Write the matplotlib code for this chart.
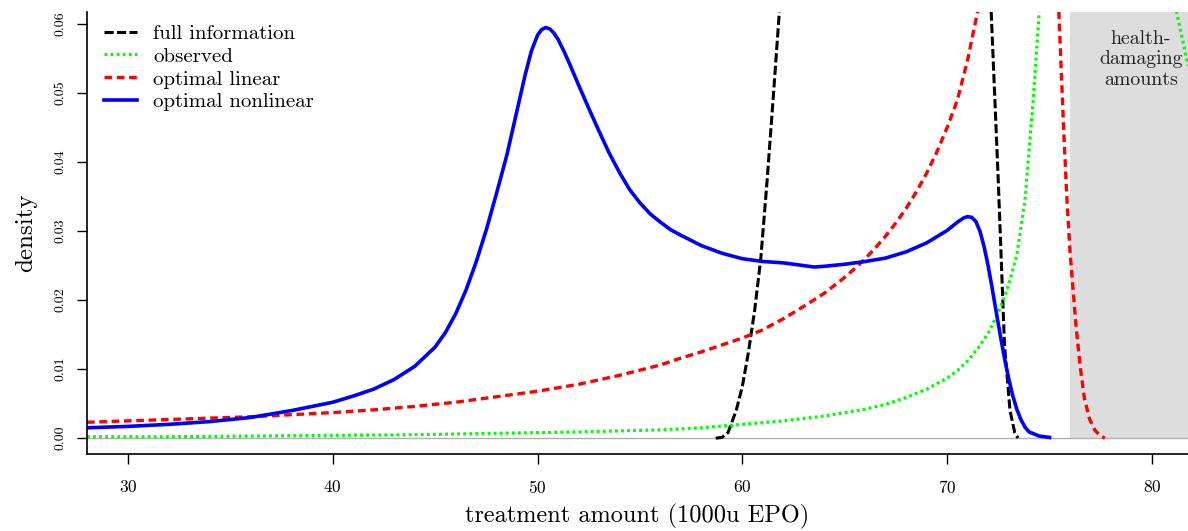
import numpy as np
import matplotlib
matplotlib.use('Agg')
from matplotlib import pyplot as plt

plt.rcParams['font.family'] = ['cmr10', 'DejaVu Serif']
plt.rcParams['axes.unicode_minus'] = False
plt.rcParams['axes.formatter.use_mathtext'] = True

# full information
full_x = [58.7, 59.0, 59.3, 59.7, 60.0, 60.3, 60.6, 60.9, 61.2, 61.5, 61.8, 62.2, 63, 65,
          67, 69, 71, 71.8, 72.15, 72.5, 72.8, 73.07, 73.3, 73.46]
full_y = [0, 0.0001, 0.0008, 0.004, 0.0075, 0.0125, 0.0185, 0.026, 0.037, 0.049, 0.0615,
          0.075, 0.085, 0.088, 0.088, 0.088, 0.085, 0.072, 0.0618, 0.037, 0.0135, 0.004,
          0.0008, 0]

# observed
obs_x = [28, 32, 36, 40, 44, 48, 52, 56, 58, 60, 62, 64, 66, 67, 68, 69, 70, 70.5, 71, 71.5,
         72, 72.5, 73, 73.4, 73.8, 74.2, 74.5, 75, 76, 78, 80, 81, 81.2, 81.76]
obs_y = [0.0002, 0.0002, 0.0003, 0.0004, 0.0005, 0.0007, 0.0009, 0.0012, 0.0015, 0.002,
         0.0025, 0.0032, 0.0042, 0.0049, 0.0059, 0.0071, 0.0087, 0.0098, 0.0112, 0.013,
         0.0152, 0.0182, 0.0222, 0.0265, 0.0345, 0.049, 0.062, 0.085, 0.12, 0.14, 0.1,
         0.066, 0.0618, 0.054]

# optimal linear
lin_x = [28, 30, 32, 34, 36, 38, 40, 42, 44, 46, 48, 50, 52, 54, 56, 57, 58, 59, 60, 61, 62,
         63, 64, 65, 65.5, 66, 66.5, 67, 67.5, 68, 68.5, 69, 69.5, 70, 70.5, 71, 71.5, 72,
         73, 74, 75, 75.45, 75.7, 75.85, 76, 76.3, 76.5, 76.7, 76.95, 77.2, 77.45, 77.7]
lin_y = [0.0023, 0.0025, 0.0027, 0.0029, 0.0031, 0.0034, 0.0037, 0.0041, 0.0046, 0.0052,
         0.006, 0.0068, 0.0078, 0.0091, 0.0106, 0.0116, 0.0125, 0.0135, 0.0145, 0.0157,
         0.0173, 0.0191, 0.021, 0.0233, 0.0246, 0.026, 0.0276, 0.0293, 0.0312, 0.0333,
         0.0357, 0.0384, 0.0415, 0.045, 0.049, 0.0548, 0.062, 0.068, 0.08, 0.09, 0.078,
         0.062, 0.044, 0.0345, 0.027, 0.016, 0.0103, 0.0058, 0.0028, 0.0012, 0.0004, 0.0]

# optimal nonlinear
non_x = [28, 30, 32, 34, 36, 38, 40, 41, 42, 43, 44, 45, 45.5, 46, 46.5, 47, 47.5, 48,
         48.5, 49, 49.4, 49.7, 50, 50.2, 50.4, 50.6, 50.8, 51.0, 51.3, 51.6, 52, 52.5, 53,
         53.5, 54, 54.5, 55, 55.5, 56, 56.5, 57, 58, 59, 60, 61, 62, 63, 63.5, 64, 65, 66,
         67, 68, 69, 70, 70.5, 70.8, 71, 71.2, 71.4, 71.6, 71.8, 72, 72.2, 72.4, 72.6,
         72.8, 73.0, 73.2, 73.4, 73.6, 73.8, 74, 74.5, 75]
non_y = [0.0015, 0.0017, 0.002, 0.0024, 0.003, 0.004, 0.0052, 0.0061, 0.0071, 0.0085,
         0.0104, 0.0132, 0.0153, 0.018, 0.0214, 0.0255, 0.0302, 0.0355, 0.041, 0.0475,
         0.0527, 0.0561, 0.0584, 0.0592, 0.0595, 0.0593, 0.0587, 0.0578, 0.056, 0.054,
         0.0512, 0.0478, 0.0445, 0.0413, 0.0385, 0.036, 0.0341, 0.0325, 0.0313, 0.0302,
         0.0294, 0.0279, 0.0268, 0.026, 0.0256, 0.0254, 0.025, 0.0248, 0.0249, 0.0252,
         0.0256, 0.0261, 0.027, 0.0283, 0.0301, 0.0313, 0.0319, 0.0321, 0.032, 0.0314,
         0.03, 0.0278, 0.025, 0.0217, 0.0182, 0.0148, 0.0116, 0.0087, 0.0062, 0.0042,
         0.0027, 0.0016, 0.0009, 0.0003, 0.0001]

damage_start = 76
xlim = (28.0, 81.76)
ylim = (-0.0023, 0.0618)

fig = plt.figure(figsize=(11.88, 5.31), dpi=100)
ax = fig.add_axes([0.0732, 0.145, 0.9268, 0.833])

ax.axvspan(damage_start, xlim[1], ymin=(0 - ylim[0]) / (ylim[1] - ylim[0]), ymax=1,
           color='#dddddd', lw=0, zorder=0)
ax.axhline(0, color='#b0b0b0', lw=1, zorder=0.5)

ax.plot(full_x, full_y, color='black', lw=2.2, dashes=(3.0, 1.1), label='full information')
ax.plot(obs_x, obs_y, color='#00ff00', lw=2.3, dashes=(0.9, 1.0), label='observed')
ax.plot(lin_x, lin_y, color='red', lw=2.4, dashes=(2.3, 1.4), label='optimal linear')
ax.plot(non_x, non_y, color='blue', lw=2.6, label='optimal nonlinear')

ax.text(79.45, 0.0592, 'health-\ndamaging\namounts', ha='center', va='top',
        fontsize=14.3, linespacing=1.2, color='#222222')

ax.set_xlim(*xlim)
ax.set_ylim(*ylim)
ax.set_xticks([30, 40, 50, 60, 70, 80])
ax.set_yticks([0, 0.01, 0.02, 0.03, 0.04, 0.05, 0.06])
ax.set_yticklabels(['0.00', '0.01', '0.02', '0.03', '0.04', '0.05', '0.06'],
                   rotation=90, va='center')
ax.tick_params(axis='both', direction='out', length=7, width=1)
ax.tick_params(axis='x', pad=11, labelsize=12.5)
ax.tick_params(axis='y', pad=8, labelsize=10)
ax.spines['top'].set_visible(False)
ax.spines['right'].set_visible(False)
ax.spines['left'].set_linewidth(1.2)
ax.spines['bottom'].set_linewidth(1.2)

ax.set_xlabel('treatment amount (1000u EPO)', fontsize=17.5, labelpad=6)
ax.set_ylabel('density', fontsize=18, labelpad=12)

ax.legend(loc='upper left', frameon=False, fontsize=15, handlelength=1.6,
          handletextpad=0.75, labelspacing=0.2, borderaxespad=0.0,
          bbox_to_anchor=(0.008, 0.99))

fig.savefig('out.png', dpi=100)
